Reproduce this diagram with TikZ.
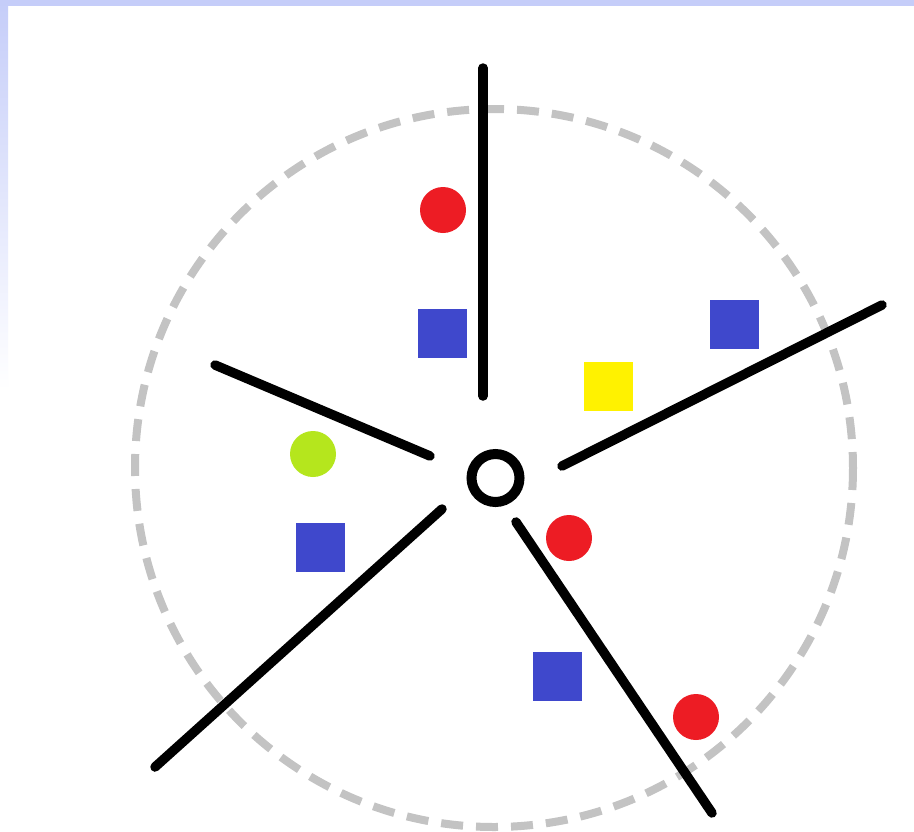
\documentclass[tikz,border=0pt]{standalone}
\definecolor{bandblue}{HTML}{C5CDF9}
\definecolor{dashgray}{HTML}{C3C3C3}
\definecolor{pblue}{HTML}{3F48CC}
\definecolor{pred}{HTML}{ED1C24}
\definecolor{pyellow}{HTML}{FFF200}
\definecolor{pgreen}{HTML}{B5E61D}
\tikzset{
  spoke/.style={line width=9.5pt, line cap=round, black},
  dot/.style={circle, inner sep=0pt, minimum size=46pt, fill=#1, draw=none},
  sq/.style={rectangle, inner sep=0pt, minimum size=49pt, fill=#1, draw=none},
}
\begin{document}
\begin{tikzpicture}[x=1pt,y=-1pt]
\useasboundingbox (0,0) rectangle (914,831);
\fill[white] (0,0) rectangle (914,831);
% frame bands
\shade[top color=bandblue, bottom color=white] (0,0) rectangle (8,390);
\fill[bandblue] (0,0) rectangle (914,6);
% dashed circle
\draw[dashgray, line width=8pt, dash pattern=on 22pt off 13pt] (494,468) circle[radius=359];
% center ring
\node[circle, draw=black, line width=10pt, minimum size=48pt, inner sep=0pt] (hub) at (495.5,478) {};
% spokes
\coordinate (t1) at (483,68);   \coordinate (t2) at (483,396);
\coordinate (r1) at (562,466);  \coordinate (r2) at (882,305);
\coordinate (d1) at (516,522);  \coordinate (d2) at (712,813);
\coordinate (l1) at (442,509);  \coordinate (l2) at (155,767);
\coordinate (u1) at (215,365);  \coordinate (u2) at (430,456);
\draw[spoke] (t1) -- (t2);
\draw[spoke] (r1) -- (r2);
\draw[spoke] (d1) -- (d2);
\draw[spoke] (l1) -- (l2);
\draw[spoke] (u1) -- (u2);
% items
\node[dot=pred] (c1) at (443,210) {};
\node[sq=pblue] (s1) at (442,333) {};
\node[sq=pblue] (s2) at (734.5,324.5) {};
\node[sq=pyellow] (s3) at (608,386.5) {};
\node[dot=pgreen] (c2) at (313,454) {};
\node[sq=pblue] (s4) at (320.5,547.5) {};
\node[dot=pred] (c3) at (569,538) {};
\node[sq=pblue] (s5) at (557,676.5) {};
\node[dot=pred] (c4) at (696,717) {};
\end{tikzpicture}
\end{document}
